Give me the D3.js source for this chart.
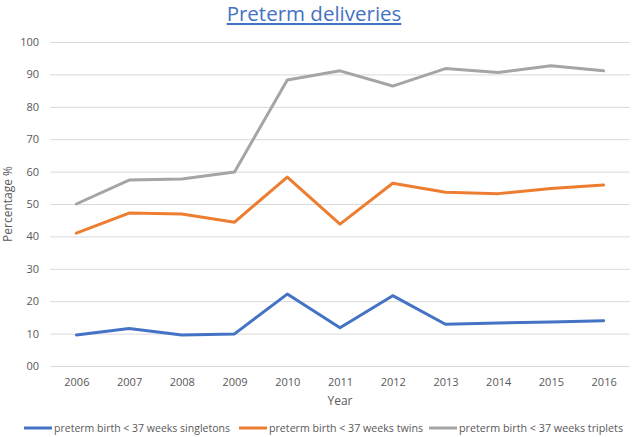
<!DOCTYPE html>
<html><head><meta charset="utf-8">
<script src="https://cdn.jsdelivr.net/npm/d3@7"></script>
<style>body{margin:0;background:#fff}svg{display:block}</style>
</head><body>
<script>
const years = ["2006","2007","2008","2009","2010","2011","2012","2013","2014","2015","2016"];
const singletons = [9.6, 11.6, 9.6, 9.9, 22.2, 11.8, 21.7, 12.9, 13.3, 13.6, 14.0];
const twins = [41.0, 47.2, 46.9, 44.4, 58.3, 43.8, 56.4, 53.6, 53.2, 54.8, 55.9];
const triplets = [50.0, 57.4, 57.7, 59.9, 88.3, 91.1, 86.4, 91.8, 90.6, 92.7, 91.1];
const seriesNames = ["preterm birth < 37 weeks singletons","preterm birth < 37 weeks twins","preterm birth < 37 weeks triplets"];
const colors = ["#4472C4","#ED7D31","#A5A5A5"];
const yTicks = [0,10,20,30,40,50,60,70,80,90,100];
const yTickLabels = ["00","10","20","30","40","50","60","70","80","90","100"];

(function(){
const W=633,H=437;
const font="'Open Sans', 'Noto Sans', sans-serif";
const svg=d3.select("body").append("svg").attr("width",W).attr("height",H);
const pl=50,pr=630,pt=42,pb=366;
const x=d3.scalePoint().domain(years).range([pl,pr]).padding(0.5);
const y=d3.scaleLinear().domain([0,100]).range([pb,pt]);

svg.append("text").attr("x",314).attr("y",21).attr("text-anchor","middle")
  .attr("font-family",font).attr("font-size",20.5).attr("fill","#4472C4")
  .attr("text-decoration","underline").text("Preterm deliveries");

const yAxis=d3.axisLeft(y).tickValues(yTicks).tickSize(-(pr-pl)).tickFormat((d,i)=>yTickLabels[i]);
const gy=svg.append("g").attr("transform",`translate(${pl},0)`).call(yAxis);
gy.select(".domain").remove();
gy.selectAll(".tick line").attr("stroke","#d9d9d9").attr("stroke-width",1);
gy.selectAll(".tick text").attr("x",-11).attr("fill","#595959").attr("font-family",font).attr("font-size",11);

const xAxis=d3.axisBottom(x).tickSize(0);
const gx=svg.append("g").attr("transform",`translate(0,${pb})`).call(xAxis);
gx.select(".domain").remove();
gx.selectAll(".tick text").attr("dy","0").attr("y",20).attr("fill","#595959").attr("font-family",font).attr("font-size",11);

svg.append("text").attr("transform",`translate(12,${(pt+pb)/2}) rotate(-90)`).attr("text-anchor","middle")
  .attr("font-family",font).attr("font-size",12).attr("fill","#595959").text("Percentage %");
svg.append("text").attr("x",340).attr("y",405).attr("text-anchor","middle")
  .attr("font-family",font).attr("font-size",12).attr("fill","#595959").text("Year");

const data=[singletons,twins,triplets];
const line=d3.line().x((d,i)=>x(years[i])).y(d=>y(d));
data.forEach((s,k)=>{
  svg.append("path").datum(s).attr("d",line).attr("fill","none")
    .attr("stroke",colors[k]).attr("stroke-width",3).attr("stroke-linejoin","round").attr("stroke-linecap","round");
});

const legX=[24,239,429];
const legW=[176,154,164];
seriesNames.forEach((n,k)=>{
  const g=svg.append("g").attr("transform",`translate(${legX[k]},428)`);
  g.append("line").attr("x1",0).attr("x2",28).attr("y1",0).attr("y2",0).attr("stroke",colors[k]).attr("stroke-width",3);
  g.append("text").attr("x",30).attr("y",4).attr("font-family",font).attr("font-size",10.5).attr("fill","#595959")
    .attr("textLength",legW[k]).attr("lengthAdjust","spacingAndGlyphs").text(n);
});
})();
</script>
</body></html>
